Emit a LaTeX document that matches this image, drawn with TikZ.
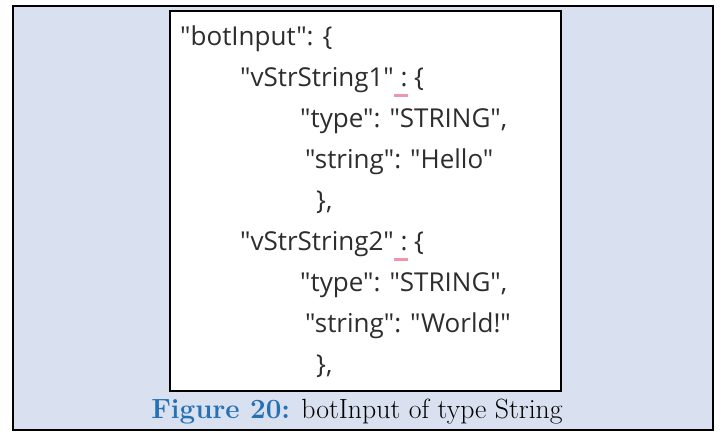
\documentclass[tikz,border=0pt]{standalone}
\usepackage{fontspec}
\usepackage{xcolor}
\usepackage{tikz}
\newfontfamily\jsonfont{Open Sans}
\definecolor{panelbg}{RGB}{217,225,241}
\definecolor{capblue}{RGB}{38,112,180}
\definecolor{jsontext}{RGB}{45,45,45}
\definecolor{spellpink}{RGB}{240,150,170}
\newcommand{\spellmark}[1]{\setbox0\hbox{#1}\rlap{\textcolor{spellpink}{\rule[-11pt]{\wd0}{3pt}}}\box0\relax}
\tikzstyle{jsonline} = [anchor=base west, inner sep=0pt, text=jsontext, font=\jsonfont\fontsize{26}{30}\selectfont]

\begin{document}
\begin{tikzpicture}[x=1pt,y=-1pt]
				\useasboundingbox (0,0) rectangle (721,432);
				\fill[panelbg] (13,6) rectangle (713,430);
				\draw[line width=2pt] (13,6) rectangle (713,430);
				\fill[white] (170,11) rectangle (561,391);
				\draw[line width=2.5pt] (170,11) rectangle (561,391);
				
				\node[jsonline] (root) at (180,45) {"botInput": \{};
				\node[jsonline] (keyone) at (240,86) {"vStrString1"\spellmark{\ :} \{};
				\node[jsonline] (typeone) at (300,127) {"type": "STRING",};
				\node[jsonline] (valone) at (305,168) {"string": "Hello"};
				\node[jsonline] (endone) at (316,209) {\},};
				\node[jsonline] (keytwo) at (240,250) {"vStrString2"\spellmark{\ :} \{};
				\node[jsonline] (typetwo) at (300,291) {"type": "STRING",};
				\node[jsonline] (valtwo) at (305,332) {"string": "World!"};
				\node[jsonline] (endtwo) at (316,373) {\},};
				
				\node[anchor=base, inner sep=0pt, font=\fontsize{27.8}{32}\selectfont] (caption) at (357,418) {\textcolor{capblue}{\bfseries Figure 20:} botInput of type String};
			\end{tikzpicture}
\end{document}
